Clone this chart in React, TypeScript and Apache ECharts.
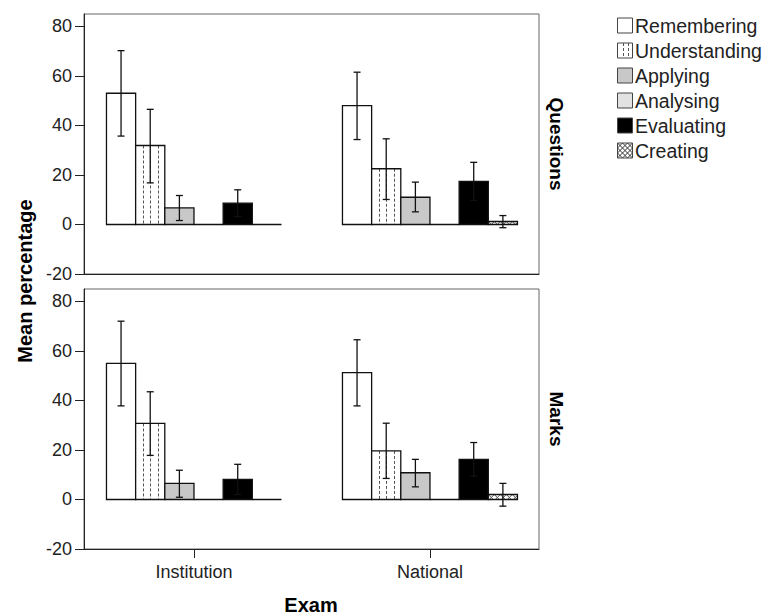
import React, { useEffect, useRef } from 'react';
import * as echarts from 'echarts';

// ---------- data ----------
const categories = ['Institution', 'National'];
const levels = ['Remembering', 'Understanding', 'Applying', 'Analysing', 'Evaluating', 'Creating'];
const panels = ['Questions', 'Marks'];
const yTicks = [-20, 0, 20, 40, 60, 80];
const xTicks = [0, 1];

// Questions panel
const questionsInstitutionMean = [53.0, 31.9, 6.7, 0, 8.6, 0];
const questionsInstitutionLow = [35.7, 16.8, 1.6, 0, 3.2, 0];
const questionsInstitutionHigh = [70.2, 46.5, 11.7, 0, 14.0, 0];
const questionsNationalMean = [48.0, 22.5, 11.0, 0, 17.4, 1.2];
const questionsNationalLow = [34.3, 10.1, 5.1, 0, 9.7, -1.3];
const questionsNationalHigh = [61.5, 34.6, 17.1, 0, 25.1, 3.6];

// Marks panel
const marksInstitutionMean = [55.0, 30.7, 6.5, 0, 8.1, 0];
const marksInstitutionLow = [37.8, 17.8, 0.9, 0, 2.0, 0];
const marksInstitutionHigh = [72.0, 43.5, 11.8, 0, 14.2, 0];
const marksNationalMean = [51.2, 19.6, 10.8, 0, 16.2, 2.0];
const marksNationalLow = [37.8, 8.5, 5.1, 0, 9.4, -2.7];
const marksNationalHigh = [64.5, 30.8, 16.2, 0, 23.0, 6.5];

// ---------- styles ----------
const FONT = '"Liberation Sans", Arial, Helvetica, sans-serif';
const TEXT = '#222';
const BAR = 0.1236; // bar width in x-axis units
const fills = ['#ffffff', '#ffffff', '#c8c8c8', '#e2e2e2', '#000000', '#ffffff'];

function crossHatch(x: number, y: number, w: number, h: number, s: number, color: string) {
  const out: any[] = [];
  const st = { stroke: color, lineWidth: 1 };
  for (let c = -Math.ceil(w / s) * s; c <= h; c += s) {
    const u1 = Math.max(0, -c);
    const u2 = Math.min(w, h - c);
    if (u2 - u1 > 0.3) out.push({ type: 'line', shape: { x1: x + u1, y1: y + u1 + c, x2: x + u2, y2: y + u2 + c }, style: st });
  }
  for (let c = 0; c <= w + h; c += s) {
    const u1 = Math.max(0, c - h);
    const u2 = Math.min(w, c);
    if (u2 - u1 > 0.3) out.push({ type: 'line', shape: { x1: x + u1, y1: y + c - u1, x2: x + u2, y2: y + c - u2 }, style: st });
  }
  return out;
}

function dottedLines(x: number, y: number, w: number, h: number, n: number) {
  const out: any[] = [];
  for (let k = 1; k < n; k++) {
    const lx = Math.round(x + (w * k) / n) + 0.5;
    out.push({ type: 'line', shape: { x1: lx, y1: y, x2: lx, y2: y + h }, style: { stroke: '#555', lineWidth: 1, lineDash: [3, 2] } });
  }
  return out;
}

function makeRender(i: number) {
  return (_params: any, api: any) => {
    const cat = api.value(0);
    const mean = api.value(1);
    const lo = api.value(2);
    const hi = api.value(3);
    const left = cat + (i - 3) * BAR;
    const p0 = api.coord([left, 0]);
    const p1 = api.coord([left + BAR, mean]);
    const x = p0[0];
    const w = p1[0] - p0[0];
    const yTop = Math.min(p0[1], p1[1]);
    const h = Math.abs(p1[1] - p0[1]);
    const children: any[] = [];
    children.push({ type: 'rect', shape: { x, y: yTop, width: w, height: h }, style: { fill: fills[i], stroke: 'none' } });
    if (i === 1 && h > 2) children.push(...dottedLines(x, yTop, w, h, 4));
    if (i === 5 && h > 0.5) children.push(...crossHatch(x, yTop, w, h, 6, '#555'));
    children.push({ type: 'rect', shape: { x, y: yTop, width: w, height: h }, style: { fill: 'none', stroke: '#111', lineWidth: 1.3 } });
    if (hi - lo > 0.01) {
      const cx = x + w / 2;
      const yl = api.coord([cat, lo])[1];
      const yh = api.coord([cat, hi])[1];
      const es = { stroke: '#111', lineWidth: 1.3 };
      children.push({ type: 'line', shape: { x1: cx, y1: yl, x2: cx, y2: yh }, style: es });
      children.push({ type: 'line', shape: { x1: cx - 3.5, y1: yl, x2: cx + 3.5, y2: yl }, style: es });
      children.push({ type: 'line', shape: { x1: cx - 3.5, y1: yh, x2: cx + 3.5, y2: yh }, style: es });
    }
    return { type: 'group', children };
  };
}

const panelData = [
  [
    [questionsInstitutionMean, questionsInstitutionLow, questionsInstitutionHigh],
    [questionsNationalMean, questionsNationalLow, questionsNationalHigh],
  ],
  [
    [marksInstitutionMean, marksInstitutionLow, marksInstitutionHigh],
    [marksNationalMean, marksNationalLow, marksNationalHigh],
  ],
];

function buildOption() {
  const series: any[] = [];
  panelData.forEach((pd, p) => {
    levels.forEach((lv, i) => {
      series.push({
        type: 'custom',
        name: lv,
        xAxisIndex: p,
        yAxisIndex: p,
        silent: true,
        clip: false,
        renderItem: makeRender(i),
        encode: { x: 0, y: [1, 2, 3] },
        data: categories.map((_c, ci) => [ci, pd[ci][0][i], pd[ci][1][i], pd[ci][2][i]]),
      });
    });
  });

  const gridBase = { left: 84, width: 455, height: 260, show: true, borderColor: '#666', borderWidth: 1, backgroundColor: 'transparent' };
  const labelStyle = { fontSize: 18, color: TEXT, fontFamily: FONT };

  const xAxis = [0, 1].map((p) => ({
    gridIndex: p,
    type: 'value',
    min: -0.466,
    max: 1.462,
    axisLine: { show: true, onZero: false, lineStyle: { color: '#222', width: 1 } },
    axisTick: p === 1 ? { show: true, customValues: xTicks, length: 9, lineStyle: { color: '#222' } } : { show: false },
    axisLabel: p === 1
      ? { show: true, customValues: xTicks, formatter: (v: number) => categories[Math.round(v)], margin: 14, ...labelStyle }
      : { show: false },
    splitLine: { show: false },
  }));

  const yAxis = [0, 1].map((p) => ({
    gridIndex: p,
    type: 'value',
    min: -20,
    max: 85,
    axisLine: { show: true, onZero: false, lineStyle: { color: '#222', width: 1 } },
    axisTick: { show: true, customValues: yTicks, length: 9, lineStyle: { color: '#222' } },
    axisLabel: { show: true, customValues: yTicks, margin: 12, ...labelStyle },
    splitLine: { show: false },
  }));

  const graphic: any[] = [];
  graphic.push({ type: 'text', x: 25, y: 281, rotation: Math.PI / 2, style: { text: 'Mean percentage', fontSize: 20, fontWeight: 'bold', fontFamily: FONT, fill: '#000', align: 'center', verticalAlign: 'middle' } });
  graphic.push({ type: 'text', x: 311, y: 605, style: { text: 'Exam', fontSize: 20, fontWeight: 'bold', fontFamily: FONT, fill: '#000', align: 'center', verticalAlign: 'middle' } });
  const panelCenters = [144, 419];
  panels.forEach((pn, p) => {
    graphic.push({ type: 'text', x: 556, y: panelCenters[p], rotation: -Math.PI / 2, style: { text: pn, fontSize: 19, fontWeight: 'bold', fontFamily: FONT, fill: '#000', align: 'center', verticalAlign: 'middle' } });
  });
  levels.forEach((lv, i) => {
    const cy = 25.5 + 25 * i;
    const x = 617.5;
    const y = cy - 7.5;
    const s = 15;
    graphic.push({ type: 'rect', shape: { x, y, width: s, height: s }, style: { fill: fills[i], stroke: 'none' } });
    if (i === 1) graphic.push(...dottedLines(x, y, s, s, 3));
    if (i === 5) graphic.push(...crossHatch(x, y, s, s, 5, '#333'));
    graphic.push({ type: 'rect', shape: { x, y, width: s, height: s }, style: { fill: 'none', stroke: '#444', lineWidth: 1 } });
    graphic.push({ type: 'text', x: 635, y: cy, style: { text: lv, fontSize: 19.5, fontFamily: FONT, fill: TEXT, align: 'left', verticalAlign: 'middle' } });
  });

  return {
    animation: false,
    backgroundColor: '#ffffff',
    grid: [
      { ...gridBase, top: 14 },
      { ...gridBase, top: 289 },
    ],
    xAxis,
    yAxis,
    series,
    graphic,
  };
}

export default function App() {
  const ref = useRef<HTMLDivElement>(null);
  useEffect(() => {
    if (!ref.current) return;
    const chart = echarts.init(ref.current, undefined, { renderer: 'svg' });
    chart.setOption(buildOption() as any);
    return () => chart.dispose();
  }, []);
  return <div ref={ref} style={{ position: 'fixed', left: 0, top: 0, width: 766, height: 616 }} />;
}
